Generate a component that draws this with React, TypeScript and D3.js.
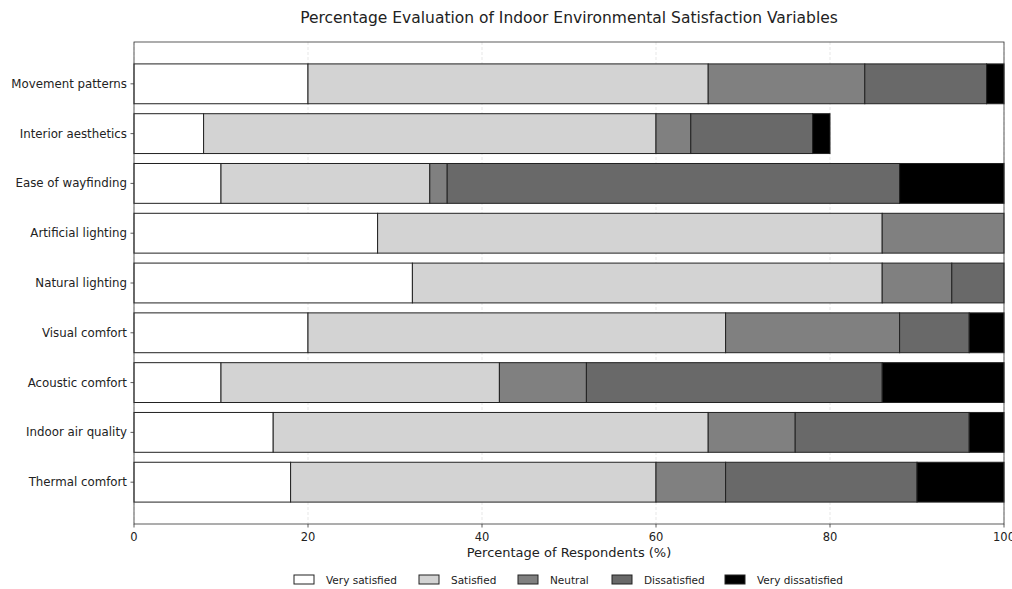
import React from "react";
import * as d3 from "d3";

const categories = [
  "Thermal comfort",
  "Indoor air quality",
  "Acoustic comfort",
  "Visual comfort",
  "Natural lighting",
  "Artificial lighting",
  "Ease of wayfinding",
  "Interior aesthetics",
  "Movement patterns",
];
const seriesNames = ["Very satisfied", "Satisfied", "Neutral", "Dissatisfied", "Very dissatisfied"];
const veryS = [18, 16, 10, 20, 32, 28, 10, 8, 20];
const sat = [42, 50, 32, 48, 54, 58, 24, 52, 46];
const neutral = [8, 10, 10, 20, 8, 14, 2, 4, 18];
const dissat = [22, 20, 34, 8, 6, 0, 52, 14, 14];
const veryD = [10, 4, 14, 4, 0, 0, 12, 2, 2];
const xTicks = [0, 20, 40, 60, 80, 100];
const colors = ["#ffffff", "#d3d3d3", "#808080", "#696969", "#000000"];

const W = 1012, H = 589;
const L = 134, R = 1004, T = 42, B = 524;
const font = "DejaVu Sans, sans-serif";

export default function App() {
  const series = [veryS, sat, neutral, dissat, veryD];
  const x = d3.scaleLinear().domain([0, 100]).range([L, R]);
  const y = d3.scaleLinear().domain([-0.84, 8.84]).range([B, T]);
  const bh = y(0) - y(0.8);
  const rects: any[] = [];
  categories.forEach((c, i) => {
    let acc = 0;
    series.forEach((s, k) => {
      const v = s[i];
      if (v > 0) {
        rects.push(
          <rect key={`${i}-${k}`} x={x(acc)} y={y(i) - bh / 2} width={x(acc + v) - x(acc)} height={bh}
            fill={colors[k]} stroke="#222" strokeWidth={1} />
        );
      }
      acc += v;
    });
  });
  const legendX = [294, 419, 518, 612, 725];
  return (
    <svg width={W} height={H} style={{ position: "absolute", left: 0, top: 0, background: "#fff" }}>
      <rect x={0} y={0} width={W} height={H} fill="#fff" />
      <text x={(L + R) / 2} y={23} textAnchor="middle" fontFamily={font} fontSize={15.5} fill="#222">
        Percentage Evaluation of Indoor Environmental Satisfaction Variables
      </text>
      {xTicks.map((t) => (
        <line key={"g" + t} x1={x(t)} x2={x(t)} y1={T} y2={B} stroke="#b0b0b0" strokeOpacity={0.4} strokeDasharray="3,2" strokeWidth={0.8} />
      ))}
      {rects}
      <rect x={L} y={T} width={R - L} height={B - T} fill="none" stroke="#333" strokeWidth={0.8} />
      {xTicks.map((t) => (
        <g key={"t" + t}>
          <line x1={x(t)} x2={x(t)} y1={B} y2={B + 3.5} stroke="#333" strokeWidth={0.8} />
          <text x={x(t)} y={B + 17} textAnchor="middle" fontFamily={font} fontSize={11.5} fill="#222">{t}</text>
        </g>
      ))}
      {categories.map((c, i) => (
        <g key={"y" + i}>
          <line x1={L - 3.5} x2={L} y1={y(i)} y2={y(i)} stroke="#333" strokeWidth={0.8} />
          <text x={L - 7} y={y(i) + 4} textAnchor="end" fontFamily={font} fontSize={11.8} fill="#222">{c}</text>
        </g>
      ))}
      <text x={(L + R) / 2} y={557} textAnchor="middle" fontFamily={font} fontSize={13} fill="#222">
        Percentage of Respondents (%)
      </text>
      {seriesNames.map((n, k) => (
        <g key={"l" + k}>
          <rect x={legendX[k]} y={575} width={20} height={9} fill={colors[k]} stroke="#222" strokeWidth={1} />
          <text x={legendX[k] + 32} y={583.5} fontFamily={font} fontSize={10.5} fill="#222">{n}</text>
        </g>
      ))}
    </svg>
  );
}
